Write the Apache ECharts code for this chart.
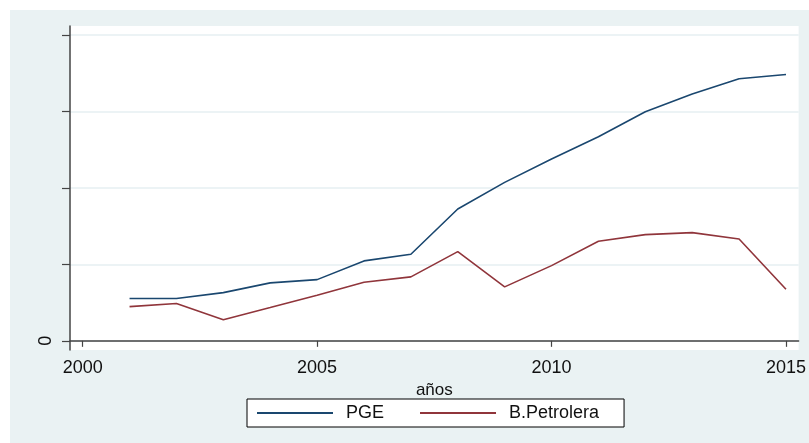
<!DOCTYPE html>
<html>
<head>
<meta charset="utf-8">
<script src="https://cdn.jsdelivr.net/npm/echarts@6/dist/echarts.min.js"></script>
<style>
  html, body { margin: 0; padding: 0; background: #ffffff; }
  #chart { position: absolute; left: 10px; top: 10px; width: 799px; height: 433px; background: #eaf2f3; }
</style>
</head>
<body>
<div id="chart"></div>
<script>
// años
const years = [2001, 2002, 2003, 2004, 2005, 2006, 2007, 2008, 2009, 2010, 2011, 2012, 2013, 2014, 2015];
const pge = [0.553, 0.553, 0.631, 0.758, 0.801, 1.046, 1.133, 1.725, 2.074, 2.379, 2.671, 2.997, 3.229, 3.429, 3.486];
const petrolera = [0.448, 0.488, 0.275, 0.435, 0.597, 0.767, 0.837, 1.167, 0.706, 0.984, 1.303, 1.39, 1.416, 1.333, 0.676];
const xTicks = [2000, 2005, 2010, 2015];
const yTicks = [0, 1, 2, 3, 4];
const yLabels = [0];

let dom = document.getElementById("chart")
let myChart = echarts.init(dom)

const txt = { color: '#111', fontFamily: 'Liberation Sans', fontSize: 18 }

var option = {
    animation: false,
    grid: {
        left: 60, top: 16, right: 10, bottom: 93,
        show: true, backgroundColor: '#ffffff', borderWidth: 0
    },
    legend: {
        left: 237, top: 389,
        backgroundColor: '#ffffff',
        borderColor: '#000', borderWidth: 1,
        padding: [5, 25, 5, 9],
        itemWidth: 76, itemHeight: 14, itemGap: 35,
        itemStyle: { opacity: 0 },
        textStyle: Object.assign({ padding: [0, 0, 0, 8] }, txt),
        data: ['PGE', 'B.Petrolera']
    },
    xAxis: {
        type: 'value',
        min: 1999.73, max: 2015.27,
        name: 'años', nameLocation: 'middle', nameGap: 29,
        nameTextStyle: { color: '#111', fontFamily: 'Liberation Sans', fontSize: 17 },
        axisLine: { show: true, lineStyle: { color: '#444', width: 1.5 } },
        axisTick: { show: true, customValues: xTicks, length: 6, lineStyle: { color: '#444', width: 1.2 } },
        axisLabel: Object.assign({
            customValues: xTicks, margin: 9, showMinLabel: true, showMaxLabel: true,
            formatter: function (v) { return String(v); }
        }, txt),
        splitLine: { show: false }
    },
    yAxis: {
        type: 'value',
        min: -0.12, max: 4.12,
        axisLine: { show: true, lineStyle: { color: '#444', width: 1.5 } },
        axisTick: { show: true, customValues: yTicks, length: 8, lineStyle: { color: '#444', width: 1.2 } },
        axisLabel: Object.assign({ customValues: yLabels, rotate: 90, margin: 15 }, txt),
        splitLine: { show: true, lineStyle: { color: '#e6eff2', width: 1.5 } }
    },
    series: [{
        name: 'PGE',
        type: 'line',
        symbol: 'none',
        data: years.map((y, i) => [y, pge[i]]),
        lineStyle: { color: '#1a476f', width: 1.6 },
        itemStyle: { color: '#1a476f' }
    }, {
        name: 'B.Petrolera',
        type: 'line',
        symbol: 'none',
        data: years.map((y, i) => [y, petrolera[i]]),
        lineStyle: { color: '#90353b', width: 1.6 },
        itemStyle: { color: '#90353b' }
    }]
}
myChart.setOption(option);
</script>
</body>
</html>
